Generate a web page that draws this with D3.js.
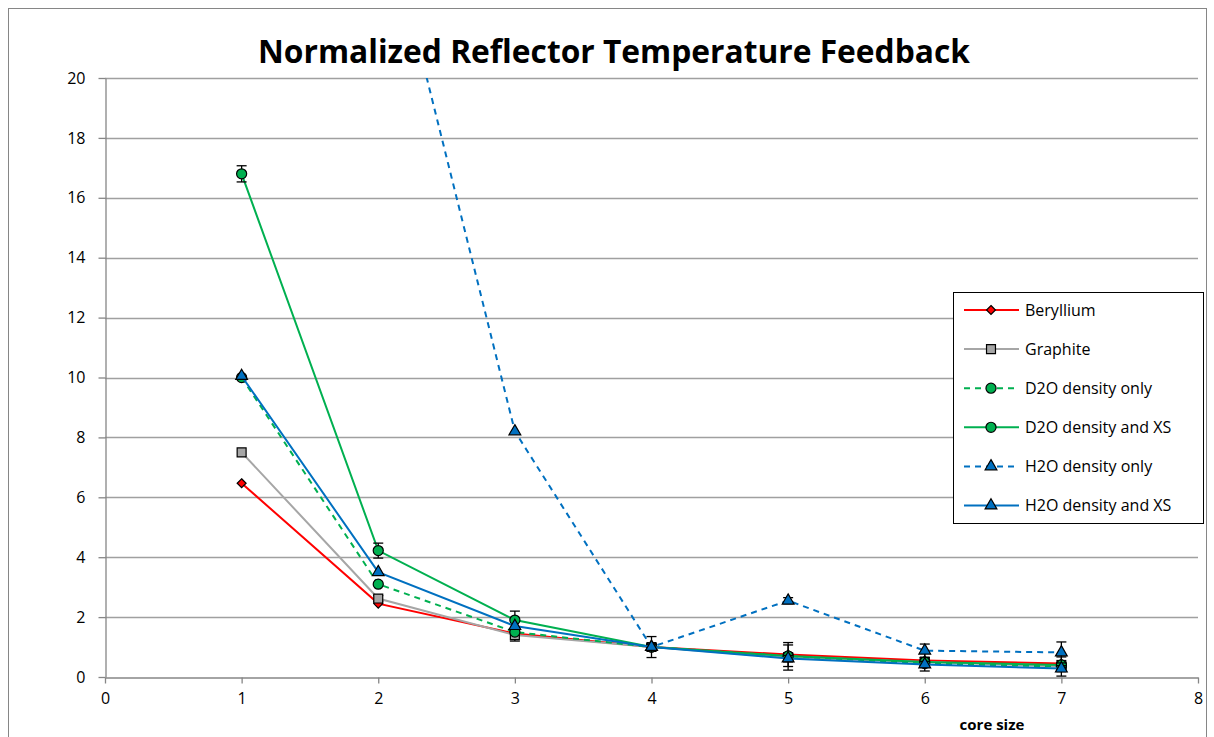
<!DOCTYPE html>
<html>
<head>
<meta charset="utf-8">
<script src="https://cdn.jsdelivr.net/npm/d3@7"></script>
<style>
  body { margin: 0; background: #fff; }
  svg { font-family: "Open Sans", "Noto Sans", sans-serif; }
</style>
</head>
<body>
<div id="chart"></div>
<script>
// values
const coreSize = [1, 2, 3, 4, 5, 6, 7];
const xTicks = [0, 1, 2, 3, 4, 5, 6, 7, 8];
const yTicks = [0, 2, 4, 6, 8, 10, 12, 14, 16, 18, 20];

const beryllium   = [6.47, 2.45, 1.45, 1.0, 0.75, 0.55, 0.45];
const graphite    = [7.5, 2.62, 1.4, 1.0, 0.65, 0.5, 0.35];
const d2oDensity  = [10.0, 3.1, 1.5, 1.0, 0.7, 0.45, 0.35];
const d2oXS       = [16.8, 4.22, 1.9, 1.0, 0.7, 0.5, 0.4];
const h2oDensity  = [45, 26.5, 8.2, 1.0, 2.55, 0.88, 0.82];
const h2oXS       = [10.05, 3.5, 1.7, 1.0, 0.62, 0.42, 0.28];

// error bar half widths (0 = none)
const berylliumErr  = [0, 0, 0, 0.1, 0.4, 0.1, 0.1];
const graphiteErr   = [0, 0.1, 0.2, 0.1, 0.42, 0.3, 0.32];
const d2oDensityErr = [0, 0, 0, 0.1, 0.1, 0.1, 0.1];
const d2oXSErr      = [0.27, 0.25, 0.3, 0.1, 0.1, 0.1, 0.1];
const h2oDensityErr = [0, 0, 0, 0.35, 0.1, 0.22, 0.35];
const h2oXSErr      = [0, 0, 0, 0.1, 0.1, 0.1, 0.1];

// small rotated square for the beryllium marker
const diamond = {
  draw(ctx, size) {
    const r = Math.sqrt(size / 2);
    ctx.moveTo(0, -r); ctx.lineTo(r, 0); ctx.lineTo(0, r); ctx.lineTo(-r, 0); ctx.closePath();
  }
};

const series = [
  {name: "Beryllium", values: beryllium, err: berylliumErr, color: "#ff0000", dash: null, symbol: diamond, size: 40},
  {name: "Graphite", values: graphite, err: graphiteErr, color: "#a6a6a6", dash: null, symbol: d3.symbolSquare, size: 80},
  {name: "D2O density only", values: d2oDensity, err: d2oDensityErr, color: "#00b050", dash: "6,5", symbol: d3.symbolCircle, size: 80},
  {name: "D2O density and XS", values: d2oXS, err: d2oXSErr, color: "#00b050", dash: null, symbol: d3.symbolCircle, size: 80},
  {name: "H2O density only", values: h2oDensity, err: h2oDensityErr, color: "#0070c0", dash: "6,5", symbol: d3.symbolTriangle, size: 60},
  {name: "H2O density and XS", values: h2oXS, err: h2oXSErr, color: "#0070c0", dash: null, symbol: d3.symbolTriangle, size: 60}
];

const width = 1214;
const height = 737;
const margin = {top: 78, right: 16, bottom: 60, left: 105};

const svg = d3.select("#chart")
  .append("svg")
    .attr("width", width)
    .attr("height", height);

// outer chart frame
svg.append("rect")
  .attr("x", 8.5).attr("y", 8.5)
  .attr("width", 1198).attr("height", 760)
  .attr("fill", "none")
  .attr("stroke", "#868686")
  .attr("stroke-width", 1);

const x = d3.scaleLinear()
  .domain([0, 8])
  .range([margin.left, width - margin.right]);

const y = d3.scaleLinear()
  .domain([0, 20])
  .range([height - margin.bottom, margin.top]);

svg.append("defs").append("clipPath")
  .attr("id", "plot")
  .append("rect")
    .attr("x", x(0)).attr("y", y(20))
    .attr("width", x(8) - x(0)).attr("height", y(0) - y(20));

// gridlines
svg.append("g")
  .selectAll("line")
  .data(yTicks.filter(d => d > 0))
  .join("line")
    .attr("x1", x(0)).attr("x2", x(8))
    .attr("y1", d => Math.round(y(d)) + 0.5)
    .attr("y2", d => Math.round(y(d)) + 0.5)
    .attr("stroke", "#a0a0a0")
    .attr("stroke-width", 1.3);

// axes
const xAxis = svg.append("g")
  .attr("transform", `translate(0,${Math.round(y(0)) + 0.5})`)
  .call(d3.axisBottom(x).tickValues(xTicks).tickSize(6).tickSizeOuter(0).tickPadding(9));

const yAxis = svg.append("g")
  .attr("transform", `translate(${Math.round(x(0)) + 0.5},0)`)
  .call(d3.axisLeft(y).tickValues(yTicks).tickSize(7).tickSizeOuter(0).tickPadding(13));

[xAxis, yAxis].forEach(a => {
  a.select(".domain").attr("stroke", "#868686").attr("stroke-width", 1.3);
  a.selectAll(".tick line").attr("stroke", "#868686").attr("stroke-width", 1.3);
  a.selectAll(".tick text")
    .attr("fill", "#000")
    .style("font-size", "16px")
    .style("font-family", "'Open Sans', 'Noto Sans', sans-serif");
});

// lines
const line = d3.line()
  .x((d, i) => x(coreSize[i]))
  .y(d => y(d));

const plot = svg.append("g").attr("clip-path", "url(#plot)");

series.forEach(s => {
  const g = plot.append("g");

  g.append("path")
    .datum(s.values)
    .attr("d", line)
    .attr("fill", "none")
    .attr("stroke", s.color)
    .attr("stroke-width", 2)
    .attr("stroke-dasharray", s.dash);

  // error bars
  const eb = g.selectAll(".err")
    .data(s.values.map((v, i) => ({x: coreSize[i], v: v, e: s.err[i]})).filter(d => d.e > 0))
    .join("g");
  eb.append("line")
    .attr("x1", d => x(d.x)).attr("x2", d => x(d.x))
    .attr("y1", d => y(d.v - d.e)).attr("y2", d => y(d.v + d.e))
    .attr("stroke", "#000").attr("stroke-width", 1.3);
  [-1, 1].forEach(sgn => {
    eb.append("line")
      .attr("x1", d => x(d.x) - 5).attr("x2", d => x(d.x) + 5)
      .attr("y1", d => y(d.v + sgn * d.e)).attr("y2", d => y(d.v + sgn * d.e))
      .attr("stroke", "#000").attr("stroke-width", 1.3);
  });

  g.selectAll(".mark")
    .data(s.values)
    .join("path")
      .attr("transform", (d, i) => `translate(${x(coreSize[i])},${y(d)})`)
      .attr("d", d3.symbol().type(s.symbol).size(s.size))
      .attr("fill", s.color)
      .attr("stroke", "#000")
      .attr("stroke-width", 1.2);
});

// title
const title = svg.append("text")
  .attr("x", 614)
  .attr("y", 63)
  .attr("text-anchor", "middle")
  .style("font-size", "28px")
  .style("font-weight", "bold")
  .text("Normalized Reflector Temperature Feedback");
const tw = title.node().getComputedTextLength();
title.style("font-size", (28 * 712 / tw).toFixed(2) + "px");

// axis title
svg.append("text")
  .attr("x", 992)
  .attr("y", 730)
  .attr("text-anchor", "middle")
  .style("font-size", "15px")
  .style("font-weight", "bold")
  .text("core size");

// legend
const legend = svg.append("g");
legend.append("rect")
  .attr("x", 953.5).attr("y", 292.5)
  .attr("width", 250).attr("height", 231)
  .attr("fill", "#fff")
  .attr("stroke", "#000")
  .attr("stroke-width", 1);

const item = legend.selectAll(".item")
  .data(series)
  .join("g")
    .attr("transform", (d, i) => `translate(0,${310 + i * 39.1})`);

item.append("line")
  .attr("x1", 964).attr("x2", 1019)
  .attr("y1", 0).attr("y2", 0)
  .attr("stroke", d => d.color)
  .attr("stroke-width", 2)
  .attr("stroke-dasharray", d => d.dash);

item.append("path")
  .attr("transform", "translate(991,0)")
  .attr("d", d => d3.symbol().type(d.symbol).size(d.size)())
  .attr("fill", d => d.color)
  .attr("stroke", "#000")
  .attr("stroke-width", 1.2);

item.append("text")
  .attr("x", 1025)
  .attr("y", 0)
  .attr("dy", "0.35em")
  .style("font-size", "16px")
  .text(d => d.name);
</script>
</body>
</html>
